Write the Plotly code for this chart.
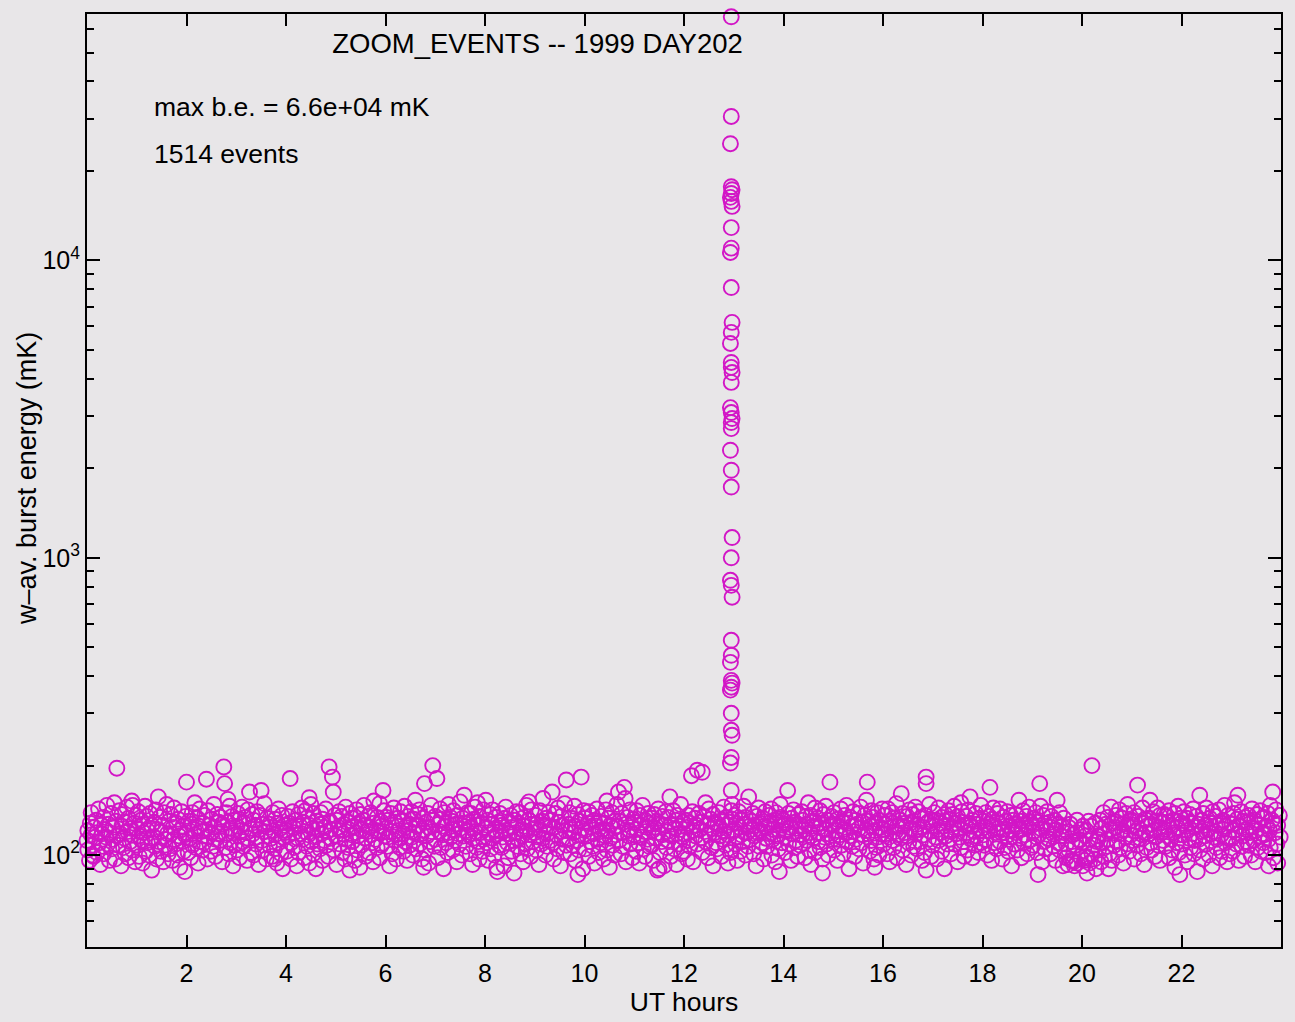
import plotly.graph_objects as go

# Event times are minutes after 00:00 UT, energies are w-av. burst energies in mK.

# 00-04 UT
t_00_04 = [
    0, 1, 1, 3, 4, 5, 5, 7, 8, 9, 10, 11, 12, 12, 14, 15, 16, 17, 18, 19,
    20, 20, 22, 23, 24, 25, 26, 27, 27, 29, 30, 31, 31, 33, 34, 35, 36, 36, 38, 39,
    40, 41, 42, 42, 44, 45, 46, 46, 48, 49, 50, 50, 52, 53, 54, 55, 55, 57, 58, 59,
    60, 61, 62, 63, 63, 65, 66, 67, 68, 68, 70, 71, 72, 73, 73, 75, 76, 77, 78, 78,
    81, 81, 82, 83, 84, 84, 86, 87, 88, 89, 89, 91, 92, 93, 94, 94, 96, 97, 98, 99,
    100, 101, 101, 103, 104, 105, 105, 107, 108, 109, 110, 111, 112, 112, 114, 115, 116, 117, 118, 119,
    120, 120, 122, 123, 124, 125, 126, 127, 127, 129, 130, 131, 131, 133, 134, 135, 136, 136, 138, 139,
    140, 141, 142, 142, 144, 145, 146, 146, 148, 149, 150, 150, 152, 153, 154, 155, 155, 157, 158, 159,
    160, 161, 162, 163, 163, 165, 166, 167, 168, 168, 170, 171, 172, 173, 173, 175, 176, 177, 178, 178,
    181, 181, 182, 183, 184, 184, 186, 187, 188, 189, 189, 191, 192, 193, 194, 194, 196, 197, 198, 199,
    200, 201, 201, 203, 204, 205, 205, 207, 208, 209, 210, 211, 212, 212, 214, 215, 216, 217, 218, 219,
    220, 220, 222, 223, 224, 225, 226, 227, 227, 229, 230, 231, 231, 233, 234, 235, 236, 236, 238, 239,
    7, 55, 118, 170, 226,
]
e_00_04 = [
    112, 121, 104, 96, 128, 117, 139, 108, 99, 124, 115, 131, 102, 119, 143, 110, 93, 126, 118, 107,
    134, 101, 122, 115, 147, 109, 127, 96, 119, 138, 105, 124, 113, 150, 97, 130, 196, 116, 108, 141,
    118, 92, 125, 137, 106, 114, 129, 101, 145, 120, 98, 133, 111, 123, 152, 104, 117, 128, 95, 136,
    123, 108, 140, 99, 116, 131, 112, 94, 127, 119, 146, 103, 135, 110, 121, 100, 138, 114, 126, 89,
    115, 129, 107, 142, 97, 122, 157, 111, 134, 103, 120, 126, 95, 139, 113, 108, 148, 118, 101, 130,
    105, 137, 118, 96, 124, 113, 144, 109, 128, 100, 132, 116, 91, 121, 140, 111, 125, 103, 117, 135,
    119, 176, 102, 130, 114, 98, 127, 139, 108, 122, 150, 106, 117, 133, 94, 125, 111, 143, 120, 104,
    128, 110, 136, 121, 180, 97, 115, 141, 126, 103, 119, 132, 107, 148, 124, 99, 113, 137, 118, 129,
    112, 134, 120, 95, 127, 198, 174, 106, 139, 117, 129, 101, 146, 123, 110, 135, 92, 119, 131, 108,
    125, 104, 138, 116, 132, 98, 121, 145, 111, 128, 107, 134, 119, 96, 142, 114, 163, 123, 102, 137,
    118, 131, 100, 126, 109, 140, 115, 93, 122, 136, 165, 112, 127, 104, 149, 120, 97, 133, 116, 124,
    108, 127, 114, 99, 139, 121, 105, 132, 117, 94, 128, 143, 110, 123, 101, 136, 115, 90, 126, 119,
    100, 147, 88, 154, 97,
]

# 04-08 UT
t_04_08 = [
    240, 241, 242, 242, 244, 245, 246, 246, 248, 249, 250, 250, 252, 253, 254, 255, 255, 257, 258, 259,
    260, 261, 262, 263, 263, 265, 266, 267, 268, 268, 270, 271, 272, 273, 273, 275, 276, 277, 278, 278,
    281, 281, 282, 283, 284, 284, 286, 287, 288, 289, 289, 291, 292, 293, 294, 294, 296, 297, 298, 299,
    300, 301, 301, 303, 304, 305, 305, 307, 308, 309, 310, 311, 312, 312, 314, 315, 316, 317, 318, 319,
    320, 320, 322, 323, 324, 325, 326, 327, 327, 329, 330, 331, 331, 333, 334, 335, 336, 336, 338, 339,
    340, 341, 342, 342, 344, 345, 346, 346, 348, 349, 350, 350, 352, 353, 354, 355, 355, 357, 358, 359,
    360, 361, 362, 363, 363, 365, 366, 367, 368, 368, 370, 371, 372, 373, 373, 375, 376, 377, 378, 378,
    381, 381, 382, 383, 384, 384, 386, 387, 388, 389, 389, 391, 392, 393, 394, 394, 396, 397, 398, 399,
    400, 401, 401, 403, 404, 405, 405, 407, 408, 409, 410, 411, 412, 412, 414, 415, 416, 417, 418, 419,
    420, 420, 422, 423, 424, 425, 426, 427, 427, 429, 430, 431, 431, 433, 434, 435, 436, 436, 438, 439,
    440, 441, 442, 442, 444, 445, 446, 446, 448, 449, 450, 450, 452, 453, 454, 455, 455, 457, 458, 459,
    460, 461, 462, 463, 463, 465, 466, 467, 468, 468, 470, 471, 472, 473, 473, 475, 476, 477, 478, 478,
    268, 317, 353, 406, 471,
]
e_04_08 = [
    121, 103, 135, 116, 128, 181, 110, 97, 140, 124, 106, 119, 131, 92, 114, 137, 102, 125, 118, 144,
    113, 129, 98, 141, 120, 107, 134, 117, 94, 126, 148, 111, 123, 101, 138, 115, 90, 130, 109, 122,
    127, 105, 139, 118, 96, 132, 112, 124, 143, 108, 120, 99, 198, 130, 114, 122, 183, 163, 104, 136,
    116, 131, 93, 124, 140, 109, 121, 135, 102, 118, 127, 97, 145, 113, 129, 106, 122, 138, 100, 117,
    133, 111, 125, 96, 119, 142, 104, 128, 116, 91, 137, 122, 108, 131, 147, 114, 99, 126, 120, 135,
    102, 124, 117, 139, 110, 95, 128, 152, 113, 121, 106, 134, 119, 98, 130, 125, 108, 165, 141, 116,
    123, 134, 107, 131, 115, 92, 138, 120, 126, 101, 144, 112, 129, 117, 97, 133, 121, 106, 140, 114,
    118, 130, 103, 146, 124, 111, 96, 135, 121, 108, 127, 140, 115, 100, 132, 119, 153, 105, 125, 137,
    126, 109, 142, 118, 97, 133, 121, 174, 104, 129, 116, 138, 94, 124, 111, 147, 120, 200, 131, 107,
    113, 135, 181, 98, 127, 120, 143, 106, 132, 117, 90, 125, 139, 110, 128, 102, 148, 119, 134, 115,
    130, 104, 122, 141, 112, 127, 95, 136, 118, 109, 151, 123, 100, 133, 116, 128, 159, 107, 121, 139,
    117, 129, 101, 138, 124, 93, 114, 132, 120, 145, 106, 126, 111, 97, 135, 119, 128, 103, 142, 113,
    156, 89, 149, 91, 150,
]

# 08-12 UT
t_08_12 = [
    481, 481, 482, 483, 484, 484, 486, 487, 488, 489, 489, 491, 492, 493, 494, 494, 496, 497, 498, 499,
    500, 501, 501, 503, 504, 505, 505, 507, 508, 509, 510, 511, 512, 512, 514, 515, 516, 517, 518, 519,
    520, 520, 522, 523, 524, 525, 526, 527, 527, 529, 530, 531, 531, 533, 534, 535, 536, 536, 538, 539,
    540, 541, 542, 542, 544, 545, 546, 546, 548, 549, 550, 550, 552, 553, 554, 555, 555, 557, 558, 559,
    560, 561, 562, 563, 563, 565, 566, 567, 568, 568, 570, 571, 572, 573, 573, 575, 576, 577, 578, 578,
    581, 581, 582, 583, 584, 584, 586, 587, 588, 589, 589, 591, 592, 593, 594, 594, 596, 597, 598, 599,
    600, 601, 601, 603, 604, 605, 605, 607, 608, 609, 610, 611, 612, 612, 614, 615, 616, 617, 618, 619,
    620, 620, 622, 623, 624, 625, 626, 627, 627, 629, 630, 631, 631, 633, 634, 635, 636, 636, 638, 639,
    640, 641, 642, 642, 644, 645, 646, 646, 648, 649, 650, 650, 652, 653, 654, 655, 655, 657, 658, 659,
    660, 661, 662, 663, 663, 665, 666, 667, 668, 668, 670, 671, 672, 673, 673, 675, 676, 677, 678, 678,
    681, 681, 682, 683, 684, 684, 686, 687, 688, 689, 689, 691, 692, 693, 694, 694, 696, 697, 698, 699,
    700, 701, 701, 703, 704, 705, 705, 707, 708, 709, 710, 711, 712, 712, 714, 715, 716, 717, 718, 719,
    495, 533, 592, 627, 690,
]
e_08_12 = [
    124, 153, 110, 131, 96, 119, 137, 105, 127, 114, 142, 100, 122, 134, 91, 117, 129, 108, 138, 120,
    106, 126, 115, 92, 133, 121, 145, 110, 98, 129, 118, 136, 103, 124, 112, 87, 131, 119, 140, 107,
    128, 113, 139, 101, 122, 116, 95, 134, 125, 109, 147, 120, 105, 131, 117, 99, 127, 142, 111, 123,
    119, 136, 104, 127, 115, 93, 141, 122, 109, 130, 155, 114, 126, 100, 133, 118, 107, 139, 124, 112,
    131, 163, 110, 124, 97, 138, 117, 105, 129, 144, 120, 92, 135, 113, 126, 102, 149, 121, 179, 108,
    114, 127, 139, 101, 122, 133, 108, 119, 146, 96, 125, 112, 137, 104, 130, 117, 183, 123, 90, 141,
    121, 105, 133, 116, 128, 99, 140, 111, 124, 136, 107, 118, 94, 131, 125, 143, 113, 102, 129, 120,
    110, 135, 122, 97, 128, 116, 142, 104, 121, 133, 91, 126, 114, 139, 108, 123, 100, 130, 117, 148,
    125, 163, 112, 130, 101, 138, 119, 107, 169, 155, 127, 95, 134, 116, 121, 109, 142, 124, 98, 132,
    117, 129, 103, 141, 122, 110, 94, 136, 126, 115, 147, 105, 120, 131, 99, 124, 113, 138, 107, 128,
    133, 108, 121, 96, 137, 124, 114, 130, 89, 119, 143, 102, 127, 111, 135, 117, 92, 126, 140, 106,
    120, 134, 112, 157, 99, 127, 116, 141, 105, 123, 131, 93, 118, 136, 109, 125, 148, 101, 115, 129,
    88, 151, 86, 152, 90,
]

# 12-16 UT (quiet band; the burst column is listed separately below)
t_12_16 = [
    720, 720, 722, 723, 724, 725, 726, 727, 727, 729, 730, 731, 731, 733, 734, 735, 736, 736, 738, 739,
    740, 741, 742, 742, 744, 745, 746, 746, 748, 749, 750, 750, 752, 753, 754, 755, 755, 757, 758, 759,
    760, 761, 762, 763, 763, 765, 766, 767, 768, 768, 770, 771, 772, 773, 773, 775, 776, 777, 778, 778,
    781, 781, 782, 783, 784, 784, 786, 787, 788, 789, 789, 791, 792, 793, 794, 794, 796, 797, 798, 799,
    800, 801, 801, 803, 804, 805, 805, 807, 808, 809, 810, 811, 812, 812, 814, 815, 816, 817, 818, 819,
    820, 820, 822, 823, 824, 825, 826, 827, 827, 829, 830, 831, 831, 833, 834, 835, 836, 836, 838, 839,
    840, 841, 842, 842, 844, 845, 846, 846, 848, 849, 850, 850, 852, 853, 854, 855, 855, 857, 858, 859,
    860, 861, 862, 863, 863, 865, 866, 867, 868, 868, 870, 871, 872, 873, 873, 875, 876, 877, 878, 878,
    881, 881, 882, 883, 884, 884, 886, 887, 888, 889, 889, 891, 892, 893, 894, 894, 896, 897, 898, 899,
    900, 901, 901, 903, 904, 905, 905, 907, 908, 909, 910, 911, 912, 912, 914, 915, 916, 917, 918, 919,
    920, 920, 922, 923, 924, 925, 926, 927, 927, 929, 930, 931, 931, 933, 934, 935, 936, 936, 938, 939,
    940, 941, 942, 942, 944, 945, 946, 946, 948, 949, 950, 950, 952, 953, 954, 955, 955, 957, 958, 959,
    777, 777, 835, 887, 950,
]
e_12_16 = [
    118, 103, 131, 124, 97, 136, 112, 128, 107, 185, 140, 121, 95, 133, 116, 126, 193, 109, 138, 122,
    129, 114, 190, 102, 135, 120, 150, 111, 126, 98, 143, 117, 132, 106, 123, 137, 92, 119, 128, 110,
    105, 127, 139, 116, 123, 99, 131, 113, 145, 120, 108, 134, 126, 94, 117, 129, 102, 141, 148, 132,
    121, 136, 109, 128, 115, 96, 140, 124, 103, 132, 117, 111, 146, 127, 100, 134, 119, 107, 157, 125,
    113, 130, 122, 138, 101, 126, 116, 92, 135, 119, 144, 107, 128, 121, 110, 133, 97, 125, 140, 114,
    124, 107, 136, 118, 129, 143, 100, 122, 113, 131, 95, 127, 139, 116, 105, 121, 134, 148, 110, 126,
    131, 115, 102, 127, 120, 165, 138, 109, 124, 96, 133, 118, 142, 106, 129, 112, 123, 99, 137, 117,
    108, 126, 140, 117, 131, 122, 98, 135, 112, 127, 150, 104, 119, 136, 93, 125, 114, 130, 144, 102,
    119, 133, 111, 124, 141, 106, 128, 97, 137, 115, 122, 146, 109, 131, 118, 100, 176, 126, 135, 113,
    127, 104, 139, 121, 113, 132, 96, 125, 117, 143, 108, 130, 122, 101, 136, 119, 147, 111, 128, 90,
    116, 134, 125, 107, 140, 120, 99, 131, 113, 127, 138, 105, 123, 145, 110, 129, 117, 94, 136, 121,
    153, 176, 118, 130, 103, 125, 141, 112, 134, 97, 121, 128, 106, 139, 115, 131, 100, 124, 118, 143,
    120, 104, 88, 87, 91,
]

# 16-20 UT
t_16_20 = [
    960, 961, 962, 963, 963, 965, 966, 967, 968, 968, 970, 971, 972, 973, 973, 975, 976, 977, 978, 978,
    981, 981, 982, 983, 984, 984, 986, 987, 988, 989, 989, 991, 992, 993, 994, 994, 996, 997, 998, 999,
    1000, 1001, 1001, 1003, 1004, 1005, 1005, 1007, 1008, 1009, 1010, 1011, 1012, 1012, 1014, 1015, 1016, 1017, 1018, 1019,
    1020, 1020, 1022, 1023, 1024, 1025, 1026, 1027, 1027, 1029, 1030, 1031, 1031, 1033, 1034, 1035, 1036, 1036, 1038, 1039,
    1040, 1041, 1042, 1042, 1044, 1045, 1046, 1046, 1048, 1049, 1050, 1050, 1052, 1053, 1054, 1055, 1055, 1057, 1058, 1059,
    1060, 1061, 1062, 1063, 1063, 1065, 1066, 1067, 1068, 1068, 1070, 1071, 1072, 1073, 1073, 1075, 1076, 1077, 1078, 1078,
    1081, 1081, 1082, 1083, 1084, 1084, 1086, 1087, 1088, 1089, 1089, 1091, 1092, 1093, 1094, 1094, 1096, 1097, 1098, 1099,
    1100, 1101, 1101, 1103, 1104, 1105, 1105, 1107, 1108, 1109, 1110, 1111, 1112, 1112, 1114, 1115, 1116, 1117, 1118, 1119,
    1120, 1120, 1122, 1123, 1124, 1125, 1126, 1127, 1127, 1129, 1130, 1131, 1131, 1133, 1134, 1135, 1136, 1136, 1138, 1139,
    1140, 1141, 1142, 1142, 1144, 1145, 1146, 1146, 1148, 1149, 1150, 1150, 1152, 1153, 1154, 1155, 1155, 1157, 1158, 1159,
    1160, 1161, 1162, 1163, 1163, 1165, 1166, 1167, 1168, 1168, 1170, 1171, 1172, 1173, 1173, 1175, 1176, 1177, 1178, 1178,
    1181, 1181, 1182, 1183, 1184, 1184, 1186, 1187, 1188, 1189, 1189, 1191, 1192, 1193, 1194, 1194, 1196, 1197, 1198, 1199,
    1012, 1054, 1147, 1190,
]
e_16_20 = [
    122, 109, 136, 118, 127, 101, 143, 115, 130, 95, 124, 139, 112, 106, 133, 120, 149, 98, 126, 117,
    131, 114, 161, 125, 104, 138, 119, 128, 93, 135, 116, 110, 142, 123, 100, 129, 137, 107, 121, 145,
    118, 127, 105, 140, 122, 111, 133, 96, 124, 117, 102, 136, 183, 174, 129, 113, 148, 120, 99, 131,
    126, 108, 139, 115, 131, 97, 122, 144, 112, 128, 119, 134, 103, 125, 90, 137, 116, 130, 109, 141,
    113, 132, 120, 101, 137, 124, 109, 146, 118, 128, 95, 135, 115, 123, 106, 140, 129, 111, 99, 126,
    135, 119, 104, 128, 142, 157, 113, 125, 98, 131, 120, 108, 138, 116, 127, 102, 133, 121, 147, 110,
    117, 130, 108, 124, 139, 113, 100, 127, 135, 169, 121, 96, 132, 144, 110, 126, 119, 105, 138, 123,
    128, 111, 143, 119, 97, 134, 122, 106, 130, 116, 140, 103, 125, 113, 136, 92, 121, 131, 109, 127,
    119, 137, 104, 125, 153, 114, 130, 98, 122, 141, 110, 127, 117, 135, 101, 124, 145, 112, 129, 106,
    126, 108, 133, 120, 139, 115, 102, 129, 117, 174, 146, 123, 95, 136, 111, 128, 105, 121, 140, 114,
    113, 129, 101, 124, 135, 118, 107, 131, 96, 122, 153, 110, 127, 139, 104, 116, 125, 92, 133, 119,
    109, 98, 120, 93, 124, 104, 127, 96, 111, 96, 117, 92, 108, 119, 131, 94, 113, 112, 99, 122,
    89, 150, 86, 95,
]

# 20-24 UT
t_20_24 = [
    1200, 1201, 1201, 1203, 1204, 1205, 1205, 1207, 1208, 1209, 1210, 1211, 1212, 1212, 1214, 1215, 1216, 1217, 1218, 1219,
    1220, 1220, 1222, 1223, 1224, 1225, 1226, 1227, 1227, 1229, 1230, 1231, 1231, 1233, 1234, 1235, 1236, 1236, 1238, 1239,
    1240, 1241, 1242, 1242, 1244, 1245, 1246, 1246, 1248, 1249, 1250, 1250, 1252, 1253, 1254, 1255, 1255, 1257, 1258, 1259,
    1260, 1261, 1262, 1263, 1263, 1265, 1266, 1267, 1268, 1268, 1270, 1271, 1272, 1273, 1273, 1275, 1276, 1277, 1278, 1278,
    1281, 1281, 1282, 1283, 1284, 1284, 1286, 1287, 1288, 1289, 1289, 1291, 1292, 1293, 1294, 1294, 1296, 1297, 1298, 1299,
    1300, 1301, 1301, 1303, 1304, 1305, 1305, 1307, 1308, 1309, 1310, 1311, 1312, 1312, 1314, 1315, 1316, 1317, 1318, 1319,
    1320, 1320, 1322, 1323, 1324, 1325, 1326, 1327, 1327, 1329, 1330, 1331, 1331, 1333, 1334, 1335, 1336, 1336, 1338, 1339,
    1340, 1341, 1342, 1342, 1344, 1345, 1346, 1346, 1348, 1349, 1350, 1350, 1352, 1353, 1354, 1355, 1355, 1357, 1358, 1359,
    1360, 1361, 1362, 1363, 1363, 1365, 1366, 1367, 1368, 1368, 1370, 1371, 1372, 1373, 1373, 1375, 1376, 1377, 1378, 1378,
    1381, 1381, 1382, 1383, 1384, 1384, 1386, 1387, 1388, 1389, 1389, 1391, 1392, 1393, 1394, 1394, 1396, 1397, 1398, 1399,
    1400, 1401, 1401, 1403, 1404, 1405, 1405, 1407, 1408, 1409, 1410, 1411, 1412, 1412, 1414, 1415, 1416, 1417, 1418, 1419,
    1420, 1420, 1422, 1423, 1424, 1425, 1426, 1427, 1427, 1429, 1430, 1431, 1431, 1433, 1434, 1435, 1436, 1436, 1438, 1439,
    1206, 1232, 1318, 1425,
]
e_20_24 = [
    110, 92, 125, 96, 116, 99, 121, 98, 130, 94, 113, 125, 200, 101, 108, 97, 128, 90, 111, 113,
    116, 104, 131, 95, 123, 110, 139, 99, 118, 127, 107, 134, 113, 101, 122, 145, 96, 128, 119, 108,
    124, 136, 111, 129, 100, 142, 118, 106, 133, 121, 94, 127, 115, 138, 109, 125, 148, 103, 130, 117,
    131, 112, 126, 97, 139, 120, 108, 172, 123, 135, 114, 101, 128, 144, 117, 93, 132, 119, 106, 125,
    118, 133, 153, 110, 127, 104, 140, 121, 99, 130, 115, 144, 108, 124, 136, 96, 119, 129, 112, 137,
    122, 107, 135, 116, 129, 98, 141, 113, 126, 104, 131, 119, 91, 138, 110, 124, 146, 102, 117, 133,
    109, 128, 117, 140, 100, 125, 133, 95, 121, 114, 137, 106, 129, 118, 143, 101, 124, 112, 135, 88,
    127, 113, 159, 104, 131, 120, 97, 138, 116, 126, 109, 144, 122, 100, 133, 118, 128, 92, 140, 115,
    120, 135, 106, 126, 113, 142, 98, 129, 117, 103, 131, 122, 147, 110, 125, 95, 136, 115, 101, 128,
    114, 127, 103, 138, 121, 150, 109, 132, 159, 118, 96, 125, 140, 107, 130, 116, 99, 134, 122, 111,
    129, 108, 136, 119, 100, 124, 143, 112, 131, 95, 121, 137, 106, 127, 116, 141, 103, 133, 118, 110,
    117, 134, 102, 125, 138, 113, 121, 147, 106, 131, 163, 98, 128, 119, 142, 109, 126, 94, 136, 115,
    87, 90, 86, 92,
]

# Burst near 13 UT
t_burst = [
    777, 777, 776, 777, 778, 777, 776, 777, 778, 777,
    777, 776, 777, 778, 777, 776, 777, 777, 778, 777,
    776, 777, 778, 777, 777, 776, 777, 777, 778, 777,
    776, 777, 778, 777, 777, 776, 777, 778, 777, 776,
    777, 777, 778, 777, 776, 777,
]
e_burst = [
    66000, 30500, 24700, 17700, 17300, 16800, 16300, 15800, 15200, 12900,
    11000, 10640, 8110, 6190, 5730, 5260, 4540, 4370, 4200, 3890,
    3200, 3080, 2940, 2850, 2720, 2300, 1970, 1730, 1170, 1000,
    840, 808, 737, 528, 470, 445, 387, 379, 367, 359,
    300, 263, 253, 213, 204, 165,
]

minutes = t_00_04 + t_04_08 + t_08_12 + t_12_16 + t_16_20 + t_20_24 + t_burst
energy = e_00_04 + e_04_08 + e_08_12 + e_12_16 + e_16_20 + e_20_24 + e_burst

# keep the stated event count honest
if len(minutes) != len(energy) or len(minutes) != 1514:
    raise ValueError(f"event lists disagree: {len(minutes)} times, {len(energy)} energies")

ut_hours = [m / 60.0 for m in minutes]
max_be = max(energy)
n_events = len(energy)

MAGENTA = "rgb(210,22,198)"
PAPER = "rgb(232,230,232)"
FONT = "Liberation Sans, Arial, Helvetica, sans-serif"
TEXT_SIZE = 26.5

fig = go.Figure(
    go.Scatter(
        x=ut_hours,
        y=energy,
        mode="markers",
        marker=dict(symbol="circle-open", size=15, color=MAGENTA,
                    line=dict(width=1.9, color=MAGENTA)),
        cliponaxis=False,
        hoverinfo="skip",
        showlegend=False,
    )
)

minor_vals = [60, 70, 80, 90, 200, 300, 400, 500, 600, 700, 800, 900,
              2000, 3000, 4000, 5000, 6000, 7000, 8000, 9000,
              20000, 30000, 40000, 50000, 60000]

fig.update_layout(
    width=1295,
    height=1022,
    autosize=False,
    margin=dict(l=87, r=14, t=12, b=75),
    paper_bgcolor=PAPER,
    plot_bgcolor=PAPER,
    font=dict(family=FONT, color="black", size=25),
    title=dict(
        text="ZOOM_EVENTS -- 1999 DAY202",
        font=dict(family=FONT, size=27.5, color="black"),
        xref="paper", x=0.3773, xanchor="center",
        yref="container", y=1 - 43 / 1022, yanchor="middle",
    ),
    xaxis=dict(
        range=[0, 24],
        tickmode="array",
        tickvals=[2, 4, 6, 8, 10, 12, 14, 16, 18, 20, 22],
        ticktext=["2", "4", "6", "8", "10", "12", "14", "16", "18", "20", "22"],
        ticks="inside", ticklen=12, tickwidth=2, tickcolor="black",
        showline=True, linewidth=2, linecolor="black", mirror="ticks",
        showgrid=False, zeroline=False,
        tickfont=dict(family=FONT, size=25, color="black"),
        ticklabelstandoff=3,
        title=dict(text="UT hours", standoff=4,
                   font=dict(family=FONT, size=TEXT_SIZE, color="black")),
    ),
    yaxis=dict(
        type="log",
        range=[1.691, 4.829],
        tickmode="array",
        tickvals=[100, 1000, 10000],
        ticktext=["10<sup>2</sup>", "10<sup>3</sup>", "10<sup>4</sup>"],
        ticks="inside", ticklen=13, tickwidth=2, tickcolor="black",
        minor=dict(tickmode="array", tickvals=minor_vals, ticks="inside",
                   ticklen=7, tickwidth=1.5, tickcolor="black", showgrid=False),
        showline=True, linewidth=2, linecolor="black", mirror="ticks",
        showgrid=False, zeroline=False,
        tickfont=dict(family=FONT, size=25, color="black"),
    ),
)

fig.add_annotation(text="w\u2013av. burst energy (mK)", xref="paper", yref="paper",
                   x=-0.0503, y=0.5027, xanchor="center", yanchor="middle",
                   textangle=-90, showarrow=False,
                   font=dict(family=FONT, size=27, color="black"))
fig.add_annotation(text=f"max b.e. = {max_be:.1e} mK", xref="paper", yref="paper",
                   x=0.0544, y=0.9005, xanchor="left", yanchor="middle",
                   showarrow=False, font=dict(family=FONT, size=TEXT_SIZE, color="black"))
fig.add_annotation(text=f"{n_events} events", xref="paper", yref="paper",
                   x=0.0544, y=0.8503, xanchor="left", yanchor="middle",
                   showarrow=False, font=dict(family=FONT, size=TEXT_SIZE, color="black"))

fig.write_html("out.html")
